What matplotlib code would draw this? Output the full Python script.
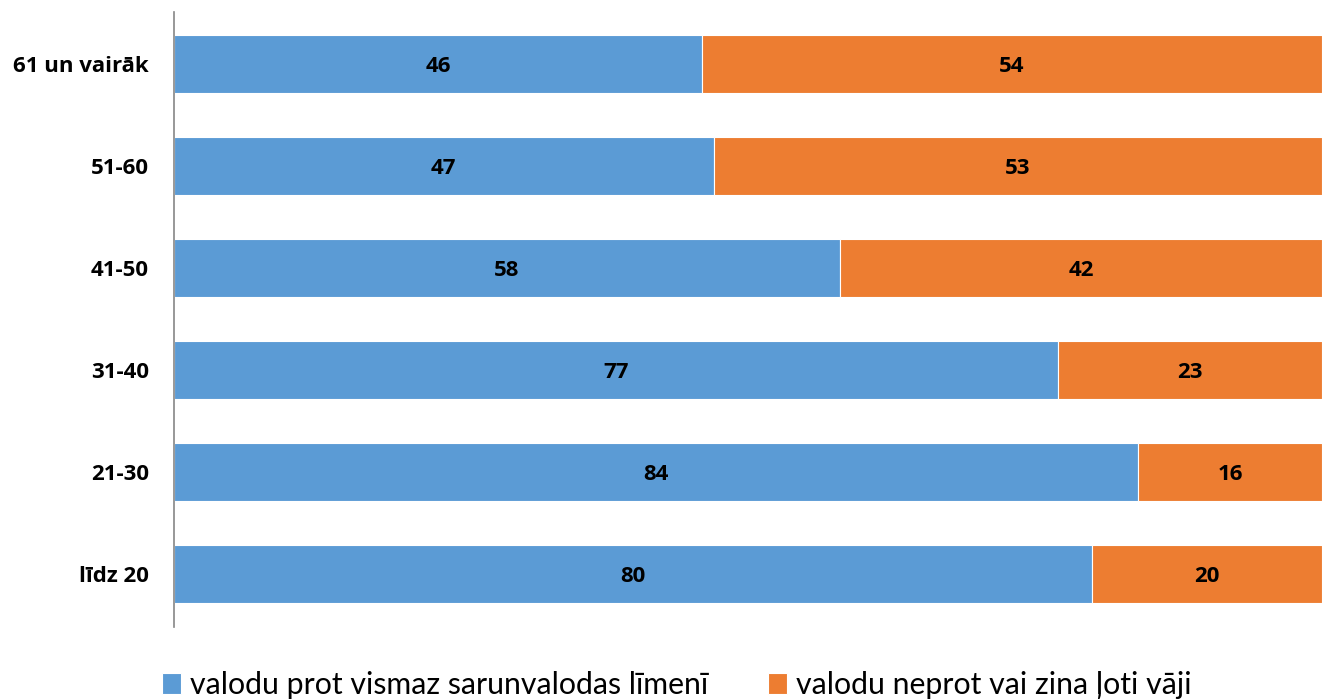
import matplotlib.pyplot as plt
import numpy as np

# Age groups, bottom to top
groups = ['līdz 20', '21-30', '31-40', '41-50', '51-60', '61 un vairāk']
knows = [80, 84, 77, 58, 47, 46]
not_knows = [20, 16, 23, 42, 53, 54]
series_names = ['valodu prot vismaz sarunvalodas līmenī', 'valodu neprot vai zina ļoti vāji']

blue = '#5B9BD5'
orange = '#ED7D31'

plt.rcParams['font.family'] = ['Lato', 'DejaVu Sans']
bold_font = ['Open Sans', 'DejaVu Sans']

fig = plt.figure(figsize=(13.22, 6.99), dpi=100)
ax = fig.add_axes([174 / 1322, 1 - 627 / 699, 1 - 174 / 1322, (627 - 12) / 699])

y = np.arange(len(groups))
h = 0.57
b1 = ax.barh(y, knows, height=h, color=blue, edgecolor='white', linewidth=0.8,
             label=series_names[0])
b2 = ax.barh(y, not_knows, left=knows, height=h, color=orange, edgecolor='white',
             linewidth=0.8, label=series_names[1])

for i in range(len(groups)):
    ax.text(knows[i] / 2, y[i] - 0.02, str(knows[i]), ha='center', va='center',
            fontsize=16, fontweight='bold', family=bold_font, color='black')
    ax.text(knows[i] + not_knows[i] / 2, y[i] - 0.02, str(not_knows[i]), ha='center',
            va='center', fontsize=16, fontweight='bold', family=bold_font, color='black')

ax.set_xlim(0, 100)
ax.set_ylim(-0.52, len(groups) - 1 + 0.51)
ax.set_yticks(y)
ax.set_yticklabels(groups, fontsize=16, fontweight='bold', family=bold_font)
ax.tick_params(axis='y', length=0, pad=18)
ax.set_xticks([])
for s in ['top', 'right', 'bottom']:
    ax.spines[s].set_visible(False)
ax.spines['left'].set_color('#868686')
ax.spines['left'].set_linewidth(1.2)

fig.legend(handles=[b1, b2], labels=series_names, loc='center',
           bbox_to_anchor=(0.512, 1 - 685 / 699), ncol=2,
           frameon=False, fontsize=21.8, handlelength=0.6, handleheight=0.7,
           handletextpad=0.3, columnspacing=2.0)

fig.savefig('out.png', dpi=100)
